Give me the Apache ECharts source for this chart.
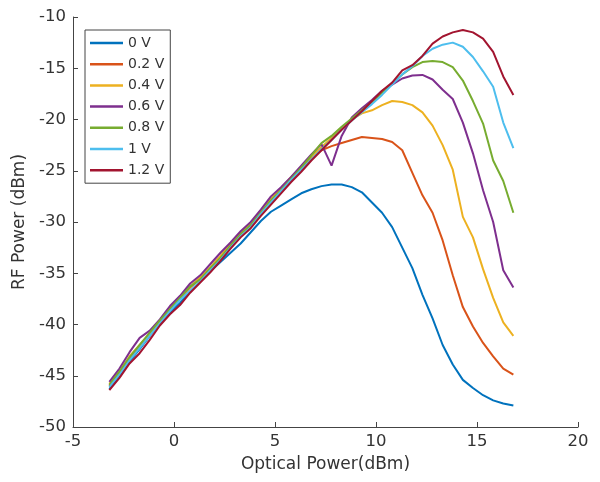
<!DOCTYPE html>
<html>
<head>
<meta charset="utf-8">
<script src="https://cdn.jsdelivr.net/npm/echarts@6/dist/echarts.min.js"></script>
<style>html,body{margin:0;padding:0;background:#fff;}#chart{width:600px;height:482px;}</style>
</head>
<body>
<div id="chart"></div>
<script>
const opticalPower = [-3.2,-2.7,-2.2,-1.7,-1.2,-0.7,-0.2,0.3,0.8,1.3,1.8,2.3,2.8,3.3,3.8,4.3,4.8,5.3,5.8,6.3,6.8,7.3,7.8,8.3,8.8,9.3,9.8,10.3,10.8,11.3,11.8,12.3,12.8,13.3,13.8,14.3,14.8,15.3,15.8,16.3,16.8];
const seriesNames = ['0 V','0.2 V','0.4 V','0.6 V','0.8 V','1 V','1.2 V'];
const rf0V  = [-46.3,-45.0,-43.6,-42.4,-41.1,-39.9,-38.8,-37.9,-36.8,-35.8,-34.8,-33.9,-33.0,-32.1,-31.0,-29.9,-29.0,-28.4,-27.8,-27.2,-26.8,-26.5,-26.35,-26.35,-26.6,-27.1,-28.1,-29.1,-30.5,-32.5,-34.5,-37.1,-39.4,-42.0,-43.9,-45.4,-46.2,-46.9,-47.4,-47.7,-47.9];
const rf02V = [-46.0,-44.8,-43.3,-42.2,-41.0,-39.7,-38.5,-37.4,-36.4,-35.5,-34.5,-33.4,-32.2,-31.1,-30.2,-28.9,-27.8,-26.8,-25.8,-24.7,-23.8,-23.0,-22.6,-22.3,-22.0,-21.7,-21.8,-21.9,-22.2,-23.0,-25.2,-27.4,-29.1,-31.8,-35.2,-38.3,-40.2,-41.8,-43.1,-44.3,-44.9];
const rf04V = [-45.8,-44.6,-43.1,-42.0,-40.9,-39.6,-38.4,-37.3,-36.3,-35.4,-34.4,-33.3,-32.1,-31.0,-30.1,-28.9,-27.8,-26.7,-25.6,-24.6,-23.6,-22.7,-21.8,-20.9,-20.0,-19.4,-19.1,-18.6,-18.2,-18.3,-18.6,-19.3,-20.6,-22.5,-24.9,-29.5,-31.5,-34.6,-37.4,-39.8,-41.1];
const rf06V = [-45.6,-44.3,-42.7,-41.3,-40.6,-39.5,-38.2,-37.2,-36.0,-35.2,-34.1,-33.0,-32.0,-30.9,-30.0,-28.8,-27.5,-26.6,-25.6,-24.5,-23.4,-22.4,-24.5,-21.6,-19.8,-18.9,-18.1,-17.2,-16.6,-16.0,-15.7,-15.65,-16.1,-17.1,-18.0,-20.3,-23.3,-26.9,-30.0,-34.7,-36.4];
const rf08V = [-45.9,-44.6,-43.2,-42.0,-40.8,-39.6,-38.5,-37.4,-36.3,-35.6,-34.5,-33.5,-32.3,-31.2,-30.3,-29.1,-27.9,-26.9,-25.8,-24.7,-23.5,-22.3,-21.6,-20.7,-19.9,-19.1,-18.3,-17.4,-16.5,-15.6,-14.9,-14.4,-14.3,-14.4,-14.9,-16.2,-18.2,-20.4,-24.0,-26.0,-29.1];
const rf1V  = [-46.1,-44.9,-43.5,-42.3,-41.1,-39.9,-38.7,-37.6,-36.7,-35.8,-34.7,-33.7,-32.5,-31.4,-30.5,-29.2,-28.1,-27.0,-25.9,-24.9,-23.9,-22.9,-22.0,-21.0,-20.1,-19.3,-18.5,-17.6,-16.6,-15.6,-14.8,-13.8,-13.1,-12.7,-12.5,-12.9,-13.9,-15.3,-16.8,-20.3,-22.8];
const rf12V = [-46.4,-45.2,-43.8,-42.8,-41.5,-40.1,-39.0,-38.1,-36.9,-35.9,-34.9,-33.8,-32.6,-31.5,-30.6,-29.4,-28.3,-27.2,-26.1,-25.1,-24.0,-23.0,-22.0,-21.0,-20.1,-19.2,-18.2,-17.2,-16.4,-15.2,-14.7,-13.8,-12.6,-11.9,-11.5,-11.27,-11.5,-12.1,-13.4,-15.8,-17.6];
const xTicks = [-5,0,5,10,15,20];
const yTicks = [-50,-45,-40,-35,-30,-25,-20,-15,-10];

const colors = ['#0072BD','#D95319','#EDB120','#7E2F8E','#77AC30','#4DBEEE','#A2142F'];
const allValues = [rf0V, rf02V, rf04V, rf06V, rf08V, rf1V, rf12V];

const chart = echarts.init(document.getElementById('chart'), null, {renderer:'canvas'});
const font = 'DejaVu Sans, sans-serif';
chart.setOption({
  animation: false,
  backgroundColor: '#fff',
  color: colors,
  grid: {left: 73, right: 22, top: 17, bottom: 55, containLabel: false},
  legend: {
    orient: 'vertical', left: 85, top: 30,
    data: seriesNames,
    icon: 'rect', itemWidth: 33, itemHeight: 2.5, itemGap: 7.2,
    padding: [6, 6, 6, 5],
    borderColor: '#444', borderWidth: 1, backgroundColor: '#fff',
    textStyle: {fontFamily: font, fontSize: 14, color: '#333', lineHeight: 14}
  },
  xAxis: {
    type: 'value', min: xTicks[0], max: xTicks[xTicks.length-1], interval: 5,
    name: 'Optical Power(dBm)', nameLocation: 'middle', nameGap: 29,
    nameTextStyle: {fontFamily: font, fontSize: 17, color: '#333'},
    axisLine: {show: true, onZero: false, lineStyle: {color: '#444', width: 1}},
    axisTick: {show: true, inside: true, length: 5, lineStyle: {color: '#444'}},
    axisLabel: {fontFamily: font, fontSize: 16.5, color: '#333', margin: 6},
    splitLine: {show: false}
  },
  yAxis: {
    type: 'value', min: yTicks[0], max: yTicks[yTicks.length-1], interval: 5,
    name: 'RF Power (dBm)', nameLocation: 'middle', nameGap: 39, nameRotate: 90,
    nameTextStyle: {fontFamily: font, fontSize: 17, color: '#333'},
    axisLine: {show: true, onZero: false, lineStyle: {color: '#444', width: 1}},
    axisTick: {show: true, inside: true, length: 5, lineStyle: {color: '#444'}},
    axisLabel: {fontFamily: font, fontSize: 16.5, color: '#333', margin: 7},
    splitLine: {show: false}
  },
  series: seriesNames.map((n, i) => ({
    name: n, type: 'line', showSymbol: false, symbol: 'none', smooth: false,
    lineStyle: {width: 2, color: colors[i]}, itemStyle: {color: colors[i]},
    data: opticalPower.map((x, j) => [x, allValues[i][j]])
  }))
});
</script>
</body>
</html>
